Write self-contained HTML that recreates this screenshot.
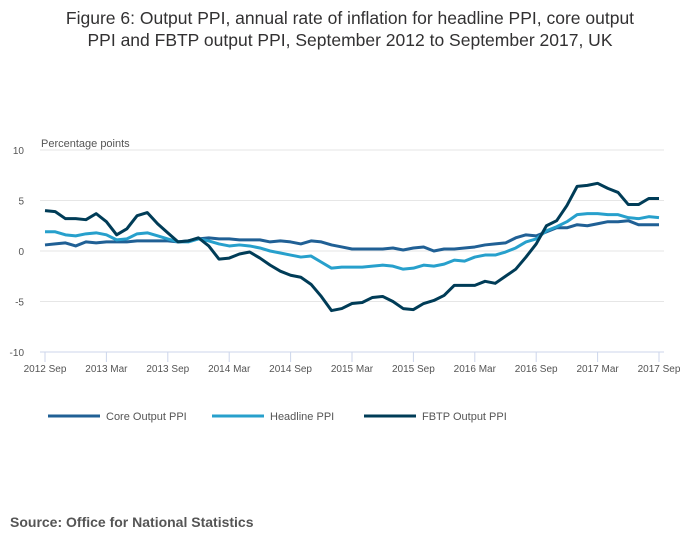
<!DOCTYPE html>
<html><head><meta charset="utf-8"><style>
body{margin:0;background:#fff;}
svg{display:block;font-family:"Liberation Sans",sans-serif;}
</style></head><body>
<svg width="700" height="549" viewBox="0 0 700 549">
<text x="350" y="24" text-anchor="middle" font-size="17.5" fill="#323132">Figure 6: Output PPI, annual rate of inflation for headline PPI, core output</text>
<text x="350" y="46" text-anchor="middle" font-size="17.5" fill="#323132">PPI and FBTP output PPI, September 2012 to September 2017, UK</text>
<text x="41" y="147" font-size="11" fill="#555">Percentage points</text>
<g id="grid"></g>
<g id="xaxis"></g>
<g id="series"></g>
<g id="legend"></g>
<text x="10" y="527" font-size="14" font-weight="bold" fill="#555">Source: Office for National Statistics</text>
</svg>
<script>
const xLabels=["2012 Sep","2013 Mar","2013 Sep","2014 Mar","2014 Sep","2015 Mar","2015 Sep","2016 Mar","2016 Sep","2017 Mar","2017 Sep"];
const yTicks=[10,5,0,-5,-10];
const core=[0.6,0.7,0.8,0.5,0.9,0.8,0.9,0.9,0.9,1.0,1.0,1.0,1.0,0.9,1.0,1.2,1.3,1.2,1.2,1.1,1.1,1.1,0.9,1.0,0.9,0.7,1.0,0.9,0.6,0.4,0.2,0.2,0.2,0.2,0.3,0.1,0.3,0.4,0.0,0.2,0.2,0.3,0.4,0.6,0.7,0.8,1.3,1.6,1.5,1.9,2.3,2.3,2.6,2.5,2.7,2.9,2.9,3.0,2.6,2.6,2.6];
const headline=[1.9,1.9,1.6,1.5,1.7,1.8,1.6,1.1,1.2,1.7,1.8,1.5,1.2,0.9,0.9,1.2,1.0,0.7,0.5,0.6,0.5,0.3,0.0,-0.2,-0.4,-0.6,-0.5,-1.1,-1.7,-1.6,-1.6,-1.6,-1.5,-1.4,-1.5,-1.8,-1.7,-1.4,-1.5,-1.3,-0.9,-1.0,-0.6,-0.4,-0.4,-0.1,0.3,0.9,1.2,2.0,2.4,2.9,3.6,3.7,3.7,3.6,3.6,3.3,3.2,3.4,3.3];
const fbtp=[4.0,3.9,3.2,3.2,3.1,3.7,2.9,1.6,2.2,3.5,3.8,2.7,1.8,0.9,1.0,1.3,0.5,-0.8,-0.7,-0.3,-0.1,-0.7,-1.4,-2.0,-2.4,-2.6,-3.3,-4.5,-5.9,-5.7,-5.2,-5.1,-4.6,-4.5,-5.0,-5.7,-5.8,-5.2,-4.9,-4.4,-3.4,-3.4,-3.4,-3.0,-3.2,-2.5,-1.8,-0.6,0.7,2.5,3.0,4.5,6.4,6.5,6.7,6.2,5.8,4.6,4.6,5.2,5.2];
const NS="http://www.w3.org/2000/svg";
const x=i=>45+i*(614/60);
const y=v=>251-v*10.1;
function mk(tag,attrs,parent){const e=document.createElementNS(NS,tag);for(const k in attrs)e.setAttribute(k,attrs[k]);document.getElementById(parent).appendChild(e);return e;}
yTicks.forEach(t=>{
  const l=mk("line",{x1:40,x2:664,y1:y(t),y2:y(t),stroke:t===-10?"#ccd6eb":"#e6e6e6","stroke-width":1},"grid");
  
  
  const tx=mk("text",{x:24,y:y(t)+4,"text-anchor":"end","font-size":10,fill:"#555"},"grid");tx.textContent=t;
  
  
});
xLabels.forEach((s,k)=>{
  const xx=x(k*6);
  const tk=mk("line",{x1:xx,x2:xx,y1:352,y2:362,stroke:"#ccd6eb"},"xaxis");
  
  
  const tx=mk("text",{x:xx,y:372,"text-anchor":"middle","font-size":10,fill:"#555"},"xaxis");tx.textContent=s;
  
  
});
const series=[["core-output-ppi",core,"#206095","Core Output PPI"],["headline-ppi",headline,"#27a0cc","Headline PPI"],["fbtp-output-ppi",fbtp,"#003c57","FBTP Output PPI"]];
series.forEach(([n,d,c])=>{
  const p=mk("polyline",{points:d.map((v,i)=>x(i)+","+y(v)).join(" "),fill:"none",stroke:c,"stroke-width":3,"stroke-linejoin":"round"},"series");
  
  
});
const lx=[48,212,364];
series.forEach(([n,d,c,lab],k)=>{
  const l=mk("line",{x1:lx[k],x2:lx[k]+52,y1:416,y2:416,stroke:c,"stroke-width":3},"legend");
  
  
  const t=mk("text",{x:lx[k]+58,y:420,"font-size":11,fill:"#555"},"legend");t.textContent=lab;
  
  
});
</script>
</body></html>
